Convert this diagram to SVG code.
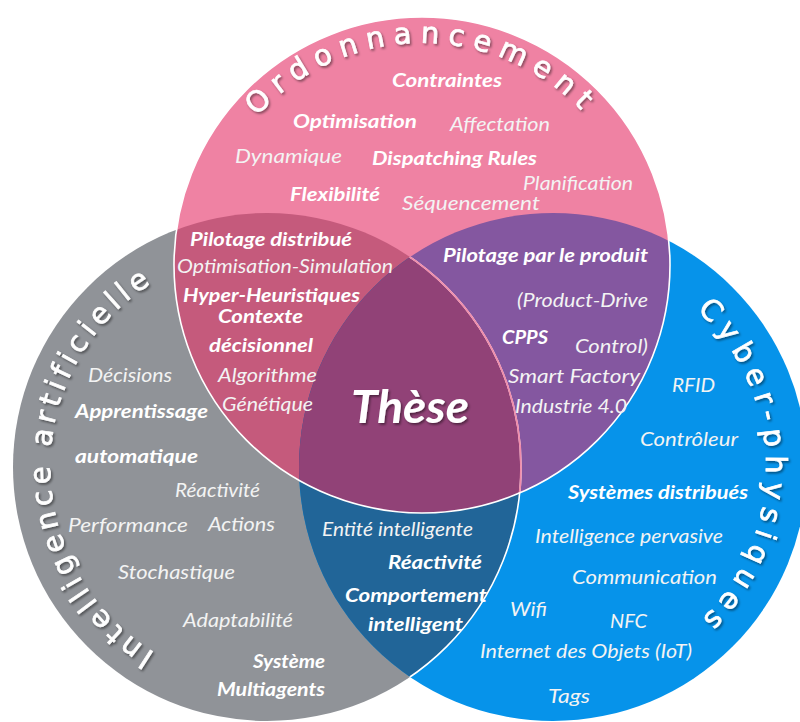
<svg xmlns="http://www.w3.org/2000/svg" width="800" height="722" viewBox="0 0 800 722">
<defs>
<style>
.b{font-family:Lato,"Open Sans","Liberation Sans",sans-serif;font-style:italic;font-weight:700;font-size:19px;fill:#ffffff}
.r{font-family:Lato,"Open Sans","Liberation Sans",sans-serif;font-style:italic;font-weight:400;font-size:19px;fill:#f3f3f3}
.arc{font-family:"DejaVu Sans",Verdana,sans-serif;font-size:29px;fill:#ffffff;stroke:#ffffff;stroke-width:0.7}
.these{font-family:Lato,"Open Sans","Liberation Sans",sans-serif;font-style:italic;font-weight:700;font-size:45px;fill:#ffffff}
</style>
<clipPath id="clipP"><circle cx="422" cy="265" r="248"/></clipPath>
<clipPath id="clipG"><circle cx="267" cy="467" r="254"/></clipPath>
<clipPath id="clipB"><circle cx="553" cy="467" r="254"/></clipPath>
<filter id="sh" x="-20%" y="-20%" width="140%" height="140%"><feDropShadow dx="1.5" dy="1.8" stdDeviation="1.3" flood-color="#000" flood-opacity="0.45"/></filter>
<path id="pathP" d="M 200 265 A 222 222 0 0 1 644 265"/>
<path id="pathG" d="M 267 684 A 217 217 0 0 1 267 250"/>
<path id="pathB" d="M 553 254 A 213 213 0 0 1 553 680"/>
</defs>

<g id="circles">
<circle id="circle-ia" cx="267" cy="467" r="254" fill="#909398"/>
<circle id="circle-cps" cx="553" cy="467" r="254" fill="#0693EA"/>
<circle id="circle-ord" cx="422" cy="265" r="248" fill="#EF82A3"/>
<circle id="zone-ord-ia" cx="267" cy="467" r="254" fill="#C55A7C" clip-path="url(#clipP)"/>
<circle id="zone-ord-cps" cx="553" cy="467" r="254" fill="#8457A0" clip-path="url(#clipP)"/>
<circle id="zone-ia-cps" cx="267" cy="467" r="254" fill="#216598" clip-path="url(#clipB)"/>
<g clip-path="url(#clipP)"><circle id="zone-these" cx="267" cy="467" r="254" fill="#914277" clip-path="url(#clipB)"/></g>
<g clip-path="url(#clipB)"><circle cx="267" cy="467" r="254" fill="none" stroke="#ffffff" stroke-width="1.6"/>
<g clip-path="url(#clipP)"><circle cx="267" cy="467" r="254" fill="none" stroke="#F08DAB" stroke-width="1.8"/></g></g>
<circle cx="422" cy="265" r="248" fill="none" stroke="#ffffff" stroke-width="1.6"/>
</g>

<g id="titles" filter="url(#sh)">
<text class="arc" font-size="30" letter-spacing="8.5"><textPath href="#pathP" startOffset="50%" text-anchor="middle">Ordonnancement</textPath></text>
<text class="arc" font-size="27" letter-spacing="5"><textPath href="#pathG" startOffset="50%" text-anchor="middle">Intelligence artificielle</textPath></text>
<text class="arc" font-size="29" letter-spacing="7.5"><textPath href="#pathB" startOffset="50%" text-anchor="middle">Cyber-physiques</textPath></text>
</g>

<g id="node-ordonnancement">
<text class="b" x="392" y="87" textLength="110" lengthAdjust="spacingAndGlyphs">Contraintes</text>
<text class="b" x="293" y="128" textLength="124" lengthAdjust="spacingAndGlyphs">Optimisation</text>
<text class="r" x="450" y="131" textLength="100" lengthAdjust="spacingAndGlyphs">Affectation</text>
<text class="r" x="235" y="163" textLength="107" lengthAdjust="spacingAndGlyphs">Dynamique</text>
<text class="b" x="372" y="165" textLength="165" lengthAdjust="spacingAndGlyphs">Dispatching Rules</text>
<text class="r" x="523" y="190" textLength="110" lengthAdjust="spacingAndGlyphs">Planification</text>
<text class="b" x="290" y="201" textLength="90" lengthAdjust="spacingAndGlyphs">Flexibilité</text>
<text class="r" x="402" y="210" textLength="138" lengthAdjust="spacingAndGlyphs">Séquencement</text>
</g>

<g id="node-ord-ia">
<text class="b" x="190" y="246" textLength="162" lengthAdjust="spacingAndGlyphs">Pilotage distribué</text>
<text class="r" x="177" y="273" textLength="216" lengthAdjust="spacingAndGlyphs">Optimisation-Simulation</text>
<text class="b" x="183" y="302" textLength="177" lengthAdjust="spacingAndGlyphs">Hyper-Heuristiques</text>
<text class="b" x="218" y="323" textLength="85" lengthAdjust="spacingAndGlyphs">Contexte</text>
<text class="b" x="209" y="352" textLength="104" lengthAdjust="spacingAndGlyphs">décisionnel</text>
<text class="r" x="218" y="382" textLength="99" lengthAdjust="spacingAndGlyphs">Algorithme</text>
<text class="r" x="222" y="411" textLength="91" lengthAdjust="spacingAndGlyphs">Génétique</text>
</g>

<g id="node-ord-cps">
<text class="b" x="443" y="262" textLength="205" lengthAdjust="spacingAndGlyphs">Pilotage par le produit</text>
<text class="r" x="517" y="307" textLength="131" lengthAdjust="spacingAndGlyphs">(Product-Drive</text>
<text class="b" x="502" y="344" textLength="46" lengthAdjust="spacingAndGlyphs">CPPS</text>
<text class="r" x="575" y="353" textLength="73" lengthAdjust="spacingAndGlyphs">Control)</text>
<text class="r" x="508" y="383" textLength="132" lengthAdjust="spacingAndGlyphs">Smart Factory</text>
<text class="r" x="515" y="413" textLength="112" lengthAdjust="spacingAndGlyphs">Industrie 4.0</text>
</g>

<g id="node-these">
<text class="these" x="351" y="423" textLength="118" lengthAdjust="spacingAndGlyphs" filter="url(#sh)">Thèse</text>
</g>

<g id="node-ia">
<text class="r" x="88" y="382" textLength="84" lengthAdjust="spacingAndGlyphs">Décisions</text>
<text class="b" x="75" y="418" textLength="133" lengthAdjust="spacingAndGlyphs">Apprentissage</text>
<text class="b" x="75" y="463" textLength="123" lengthAdjust="spacingAndGlyphs">automatique</text>
<text class="r" x="175" y="497" textLength="85" lengthAdjust="spacingAndGlyphs">Réactivité</text>
<text class="r" x="68" y="532" textLength="120" lengthAdjust="spacingAndGlyphs">Performance</text>
<text class="r" x="208" y="531" textLength="67" lengthAdjust="spacingAndGlyphs">Actions</text>
<text class="r" x="118" y="579" textLength="117" lengthAdjust="spacingAndGlyphs">Stochastique</text>
<text class="r" x="183" y="627" textLength="110" lengthAdjust="spacingAndGlyphs">Adaptabilité</text>
<text class="b" x="253" y="668" textLength="72" lengthAdjust="spacingAndGlyphs">Système</text>
<text class="b" x="217" y="696" textLength="108" lengthAdjust="spacingAndGlyphs">Multiagents</text>
</g>

<g id="node-ia-cps">
<text class="r" x="322" y="536" textLength="151" lengthAdjust="spacingAndGlyphs">Entité intelligente</text>
<text class="b" x="388" y="569" textLength="94" lengthAdjust="spacingAndGlyphs">Réactivité</text>
<text class="b" x="345" y="602" textLength="142" lengthAdjust="spacingAndGlyphs">Comportement</text>
<text class="b" x="368" y="631" textLength="95" lengthAdjust="spacingAndGlyphs">intelligent</text>
</g>

<g id="node-cps">
<text class="r" x="672" y="392" textLength="43" lengthAdjust="spacingAndGlyphs">RFID</text>
<text class="r" x="640" y="446" textLength="98" lengthAdjust="spacingAndGlyphs">Contrôleur</text>
<text class="b" x="568" y="499" textLength="180" lengthAdjust="spacingAndGlyphs">Systèmes distribués</text>
<text class="r" x="535" y="543" textLength="188" lengthAdjust="spacingAndGlyphs">Intelligence pervasive</text>
<text class="r" x="572" y="584" textLength="145" lengthAdjust="spacingAndGlyphs">Communication</text>
<text class="r" x="510" y="616" textLength="37" lengthAdjust="spacingAndGlyphs">Wifi</text>
<text class="r" x="610" y="628" textLength="37" lengthAdjust="spacingAndGlyphs">NFC</text>
<text class="r" x="480" y="658" textLength="212" lengthAdjust="spacingAndGlyphs">Internet des Objets (IoT)</text>
<text class="r" x="548" y="703" textLength="42" lengthAdjust="spacingAndGlyphs">Tags</text>
</g>
</svg>
